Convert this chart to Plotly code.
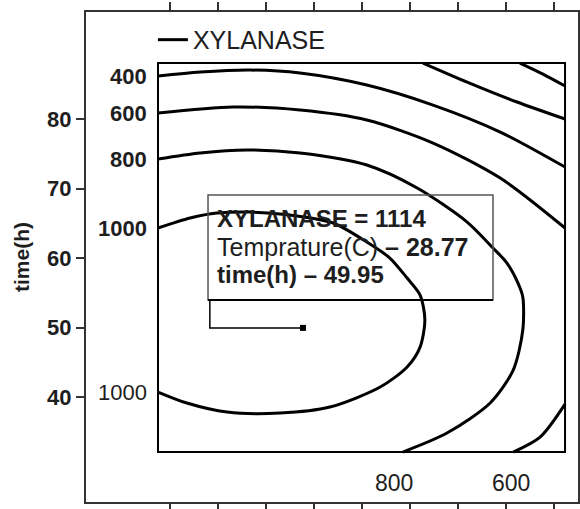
import plotly.graph_objects as go

# ---------------- data ----------------
response_name = "XYLANASE"
x_name = "Temprature(C)"
y_name = "time(h)"

# contour levels (labels shown on the chart)
levels = [0, 200, 400, 600, 800, 1000]

# contour paths: (Temprature(C), time(h))
c0_T = [33.29, 33.77, 34.23]
c0_t = [88.06, 86.47, 84.75]
c200_T = [31.27, 32.19, 33.23, 34.23]
c200_t = [88.06, 85.32, 82.45, 80.00]
c400_T = [25.75, 26.63, 27.67, 28.71, 30.10, 31.48, 32.88, 34.23]
c400_t = [86.19, 86.76, 87.05, 86.62, 84.89, 82.01, 78.13, 73.09]
c600a_T = [25.75, 27.31, 28.71, 30.10, 31.48, 32.88, 34.23]
c600a_t = [80.86, 81.73, 81.29, 79.86, 76.55, 71.51, 64.32]
c600b_T = [34.23, 33.71, 33.15]
c600b_t = [38.99, 34.24, 32.09]
c800_T = [25.75, 26.63, 27.60, 28.71, 30.10, 31.15, 32.19, 32.73, 33.02,
          33.25, 33.35, 33.35, 33.15, 32.67, 31.77, 30.85]
c800_t = [74.24, 75.11, 75.54, 75.11, 73.38, 70.07, 65.18, 61.44, 59.28,
          56.40, 54.39, 49.64, 43.88, 39.14, 34.82, 32.09]
c1000_T = [25.75, 26.42, 26.98, 27.67, 28.50, 29.40, 30.10, 30.58, 30.94,
           31.21, 31.31, 31.21, 30.94, 30.38, 29.33, 28.29, 27.19, 26.35, 25.75]
c1000_t = [64.32, 65.76, 66.47, 66.62, 66.19, 65.04, 62.30, 60.00, 57.12,
           54.68, 51.08, 47.19, 44.32, 41.44, 38.56, 37.70, 37.84, 39.14, 40.72]

# design region (inner box)
design_T = [25.75, 34.23]
design_t = [32.09, 88.06]

# flagged point
opt_T = 28.77
opt_t = 49.95
opt_val = 1114

# axis ticks
x_ticks = [26, 27, 28, 29, 30, 31, 32, 33, 34]
y_ticks = [40, 50, 60, 70, 80]
x_range = [24.25, 34.5]
y_range = [24.9, 95.4]

# ---------------- figure ----------------
paths = [(c0_T, c0_t), (c200_T, c200_t), (c400_T, c400_t), (c600a_T, c600a_t),
         (c600b_T, c600b_t), (c800_T, c800_t), (c1000_T, c1000_t)]
xs, ys = [], []
for px_, py_ in paths:
    xs += px_ + [None]
    ys += py_ + [None]

TXT = "#1e1e1e"
FONT = "Liberation Sans"

fig = go.Figure()
fig.add_trace(go.Scatter(
    x=xs, y=ys, mode="lines", name=response_name,
    line=dict(color="black", width=3, shape="spline", smoothing=0.8),
    connectgaps=False, hoverinfo="skip", showlegend=True,
))

# leader from the info box to the flagged point
box_left_T = 26.83
box_bottom_t = 53.96
fig.add_trace(go.Scatter(
    x=[box_left_T, box_left_T, opt_T], y=[box_bottom_t, opt_t, opt_t],
    mode="lines", line=dict(color="black", width=1.5), showlegend=False,
    hoverinfo="skip",
))
fig.add_trace(go.Scatter(
    x=[opt_T], y=[opt_t], mode="markers",
    marker=dict(symbol="square", size=6, color="black"), showlegend=False,
))

# design region box
fig.add_shape(type="rect", xref="x", yref="y",
              x0=design_T[0], x1=design_T[1], y0=design_t[0], y1=design_t[1],
              line=dict(color="black", width=2), fillcolor="rgba(0,0,0,0)")

# info box
fig.add_shape(type="rect", xref="paper", yref="paper",
              x0=0.248, x1=0.8272, y0=0.4122, y1=0.6265,
              line=dict(color="#555555", width=1.5), fillcolor="rgba(0,0,0,0)")
fig.add_shape(type="line", xref="paper", yref="paper",
              x0=0.248, x1=0.8272, y0=0.4122, y1=0.4122,
              line=dict(color="black", width=2))

info_lines = [
    (f"<b>{response_name} = {opt_val}</b>", 0.5786, 24),
    (f"{x_name} <b>– {opt_T:.2f}</b>", 0.5214, 25),
    (f"<b>{y_name} – {opt_t:.2f}</b>", 0.4633, 24),
]
for txt, yp, fs in info_lines:
    fig.add_annotation(x=0.2622, y=yp, xref="paper", yref="paper",
                       text=txt, showarrow=False, xanchor="left", yanchor="middle",
                       font=dict(family=FONT, size=fs, color=TXT))

# contour labels
labels = [
    ("400", c400_T[0], c400_t[0], "left", True),
    ("600", c600a_T[0], c600a_t[0], "left", True),
    ("800", c800_T[0], c800_t[0], "left", True),
    ("1000", c1000_T[0], c1000_t[0], "left", True),
    ("1000", c1000_T[-1], c1000_t[-1], "left", False),
    ("800", c800_T[-1], c800_t[-1], "bottom", False),
    ("600", c600b_T[-1], c600b_t[-1], "bottom", False),
]
for txt, lx, ly, side, bold in labels:
    t = f"<b>{txt}</b>" if bold else txt
    if side == "left":
        fig.add_annotation(x=lx, y=ly, text=t, showarrow=False,
                           xanchor="right", yanchor="middle", xshift=-9,
                           font=dict(family=FONT, size=22, color=TXT))
    else:
        fig.add_annotation(x=lx, y=ly, text=t, showarrow=False,
                           xanchor="center", yanchor="middle",
                           xshift=-9 if txt == "800" else -2, yshift=-31,
                           font=dict(family=FONT, size=23, color=TXT))

fig.update_layout(
    width=580, height=509,
    margin=dict(l=86, r=2, t=12, b=7, autoexpand=False),
    paper_bgcolor="white", plot_bgcolor="white",
    showlegend=True,
    legend=dict(x=0.136, y=0.943, xanchor="left", yanchor="middle",
                bgcolor="rgba(0,0,0,0)", borderwidth=0,
                font=dict(family=FONT, size=25, color=TXT)),
)
fig.update_xaxes(range=x_range, tickvals=x_ticks, showticklabels=False,
                 ticks="outside", ticklen=8, tickwidth=1.5, tickcolor="#333",
                 showline=True, linecolor="#333", linewidth=2, mirror="ticks",
                 showgrid=False, zeroline=False, automargin=False)
fig.update_yaxes(range=y_range, tickvals=y_ticks,
                 ticks="outside", ticklen=8, tickwidth=1.5, tickcolor="#333",
                 tickfont=dict(family=FONT, size=22, color=TXT, weight="bold"),
                 ticklabelstandoff=0, automargin=False,
                 showline=True, linecolor="#333", linewidth=2, mirror="ticks",
                 showgrid=False, zeroline=False,
                 title=dict(text=f"<b>{y_name}</b>", standoff=12,
                            font=dict(family=FONT, size=21, color=TXT)))

fig.write_html("out.html")
